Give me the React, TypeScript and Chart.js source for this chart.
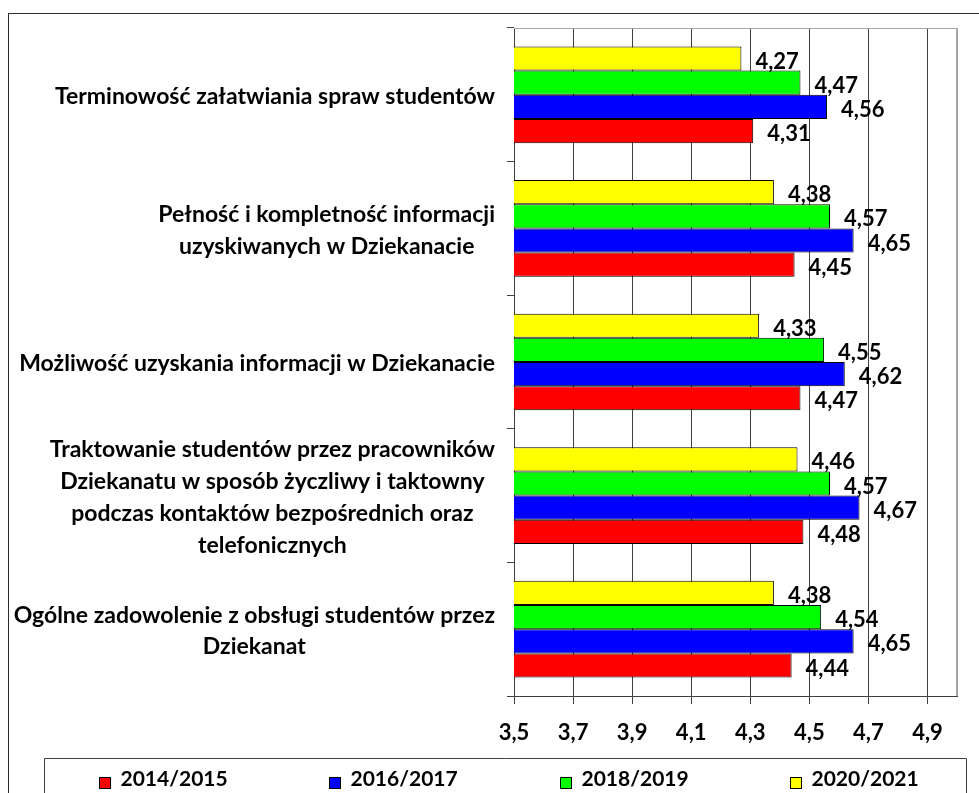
import { useEffect, useRef } from "react";
import { Chart, registerables } from "chart.js";

Chart.register(...registerables);

const categories: string[][] = [
  ["Terminowość załatwiania spraw studentów"],
  ["Pełność i kompletność informacji", "uzyskiwanych w Dziekanacie"],
  ["Możliwość uzyskania informacji w Dziekanacie"],
  [
    "Traktowanie studentów przez pracowników",
    "Dziekanatu w sposób życzliwy i taktowny",
    "podczas kontaktów bezpośrednich oraz",
    "telefonicznych",
  ],
  ["Ogólne zadowolenie z obsługi studentów przez", "Dziekanat"],
];

const values2014 = [4.31, 4.45, 4.47, 4.48, 4.44];
const values2016 = [4.56, 4.65, 4.62, 4.67, 4.65];
const values2018 = [4.47, 4.57, 4.55, 4.57, 4.54];
const values2020 = [4.27, 4.38, 4.33, 4.46, 4.38];

const seriesNames = ["2014/2015", "2016/2017", "2018/2019", "2020/2021"];
const seriesColors = ["#FF0000", "#0000FF", "#00FF00", "#FFFF00"];

const xTickValues = [3.5, 3.7, 3.9, 4.1, 4.3, 4.5, 4.7, 4.9, 5.0];
const xMin = 3.5;
const xMax = 5.0;

const FONT = "Lato, 'Open Sans', sans-serif";
const CAT_SIZE = 23;
const VALUE_SIZE = 22;
const TICK_SIZE = 22;
const LEGEND_SIZE = 21;

const fmt = (v: number) => v.toFixed(2).replace(".", ",");

const framePlugin = {
  id: "frame",
  beforeDraw(chart: any) {
    const { ctx } = chart;
    ctx.save();
    ctx.fillStyle = "#ffffff";
    ctx.fillRect(0, 0, chart.width, chart.height);
    ctx.strokeStyle = "#2b2b2b";
    ctx.lineWidth = 1;
    ctx.strokeRect(8.5, 13.5, 2000, 2000);
    ctx.restore();
  },
  beforeDatasetsDraw(chart: any) {
    const { ctx, chartArea } = chart;
    ctx.save();
    ctx.strokeStyle = "#a6a6a6";
    ctx.lineWidth = 1;
    ctx.beginPath();
    ctx.moveTo(chartArea.left, chartArea.top + 0.5);
    ctx.lineTo(chartArea.right, chartArea.top + 0.5);
    ctx.stroke();
    ctx.restore();
  },
};

const labelsPlugin = {
  id: "catLabels",
  afterDraw(chart: any) {
    const { ctx, chartArea } = chart;
    const yScale = chart.scales.y;
    const labels = chart.data.labels as string[][];
    ctx.save();
    ctx.font = `bold ${CAT_SIZE}px ${FONT}`;
    ctx.fillStyle = "#000000";
    ctx.textAlign = "center";
    ctx.textBaseline = "middle";
    const lineH = 31.7;
    labels.forEach((lines, i) => {
      const cy = yScale.getPixelForValue(i);
      const w = Math.max(...lines.map((l) => ctx.measureText(l).width));
      const cx = chartArea.left - 19 - w / 2;
      lines.forEach((l, k) => {
        ctx.fillText(l, cx, cy + 2 + (k - (lines.length - 1) / 2) * lineH);
      });
    });
    ctx.restore();
  },
};

const valuesPlugin = {
  id: "valueLabels",
  afterDatasetsDraw(chart: any) {
    const { ctx } = chart;
    ctx.save();
    ctx.font = `bold ${VALUE_SIZE}px ${FONT}`;
    ctx.fillStyle = "#000000";
    ctx.textAlign = "left";
    ctx.textBaseline = "middle";
    chart.data.datasets.forEach((ds: any, di: number) => {
      const meta = chart.getDatasetMeta(di);
      meta.data.forEach((bar: any, i: number) => {
        ctx.fillText(fmt(ds.data[i]), bar.x + 14, bar.y + 3);
      });
    });
    ctx.restore();
  },
};

const legendPlugin = {
  id: "customLegend",
  afterDraw(chart: any) {
    const { ctx } = chart;
    const boxLeft = 44.5;
    const boxRight = 966.5;
    const boxTop = 758.5;
    ctx.save();
    ctx.strokeStyle = "#404040";
    ctx.lineWidth = 1;
    ctx.beginPath();
    ctx.moveTo(boxLeft, 820);
    ctx.lineTo(boxLeft, boxTop);
    ctx.lineTo(boxRight, boxTop);
    ctx.lineTo(boxRight, 820);
    ctx.stroke();
    const slot = (boxRight - boxLeft) / 4;
    ctx.font = `bold ${LEGEND_SIZE}px ${FONT}`;
    ctx.textBaseline = "middle";
    ctx.textAlign = "left";
    const datasets = [...chart.data.datasets].reverse();
    datasets.forEach((ds: any, i: number) => {
      const x = Math.round(boxLeft + 54 + i * slot) + 0.5;
      ctx.fillStyle = ds.backgroundColor;
      ctx.fillRect(x, 777.5, 11, 11);
      ctx.strokeStyle = "#000000";
      ctx.strokeRect(x, 777.5, 11, 11);
      ctx.fillStyle = "#000000";
      ctx.fillText(ds.label, x + 21, 779);
    });
    ctx.restore();
  },
};

export default function App() {
  const ref = useRef<HTMLCanvasElement | null>(null);
  useEffect(() => {
    if (!ref.current) return;
    const mk = (idx: number, data: number[]) => ({
      label: seriesNames[idx],
      data,
      backgroundColor: seriesColors[idx],
      borderColor: "#000000",
      borderWidth: 1,
      barPercentage: 1,
      categoryPercentage: 0.724,
    });
    const chart = new Chart(ref.current, {
      type: "bar",
      data: {
        labels: categories,
        datasets: [
          mk(3, values2020),
          mk(2, values2018),
          mk(1, values2016),
          mk(0, values2014),
        ],
      },
      options: {
        indexAxis: "y",
        animation: false,
        responsive: false,
        maintainAspectRatio: false,
        events: [],
        layout: { padding: { top: 28, left: 8, right: 22, bottom: 37 } },
        plugins: {
          legend: { display: false },
          tooltip: { enabled: false },
          title: { display: false },
        },
        scales: {
          x: {
            type: "linear",
            min: xMin,
            max: xMax,
            afterBuildTicks: (scale: any) => {
              scale.ticks = xTickValues.map((v) => ({ value: v }));
            },
            afterFit: (scale: any) => {
              scale.height = 60;
            },
            grid: {
              color: (c: any) => (c.tick && c.tick.value >= 5 ? "#a6a6a6" : "#404040"),
              lineWidth: (c: any) => (c.tick && c.tick.value >= 5 ? 2 : 1),
              tickColor: (c: any) => (c.tick && c.tick.value >= 5 ? "rgba(0,0,0,0)" : "#404040"),
              tickLength: 8,
              drawTicks: true,
            },
            border: { display: true, color: "#404040", width: 1 },
            ticks: {
              autoSkip: false,
              maxRotation: 0,
              padding: 16,
              color: "#000000",
              font: { family: FONT, size: TICK_SIZE, weight: "bold" },
              callback: (v: any) => (Number(v) >= 5 ? "" : Number(v).toFixed(1).replace(".", ",")),
            },
          },
          y: {
            type: "category",
            afterFit: (scale: any) => {
              scale.width = 506;
            },
            grid: {
              drawOnChartArea: false,
              drawTicks: true,
              tickLength: 7,
              color: "#404040",
              tickColor: "#404040",
              offset: true,
            },
            border: { display: true, color: "#404040", width: 1 },
            ticks: { display: false },
          },
        },
      },
      plugins: [framePlugin, labelsPlugin, valuesPlugin, legendPlugin],
    });
    return () => chart.destroy();
  }, []);
  return (
    <div style={{ position: "fixed", left: 0, top: 0, width: 979, height: 793, overflow: "hidden" }}>
      <canvas ref={ref} width={979} height={793} style={{ display: "block", width: 979, height: 793 }} />
    </div>
  );
}
